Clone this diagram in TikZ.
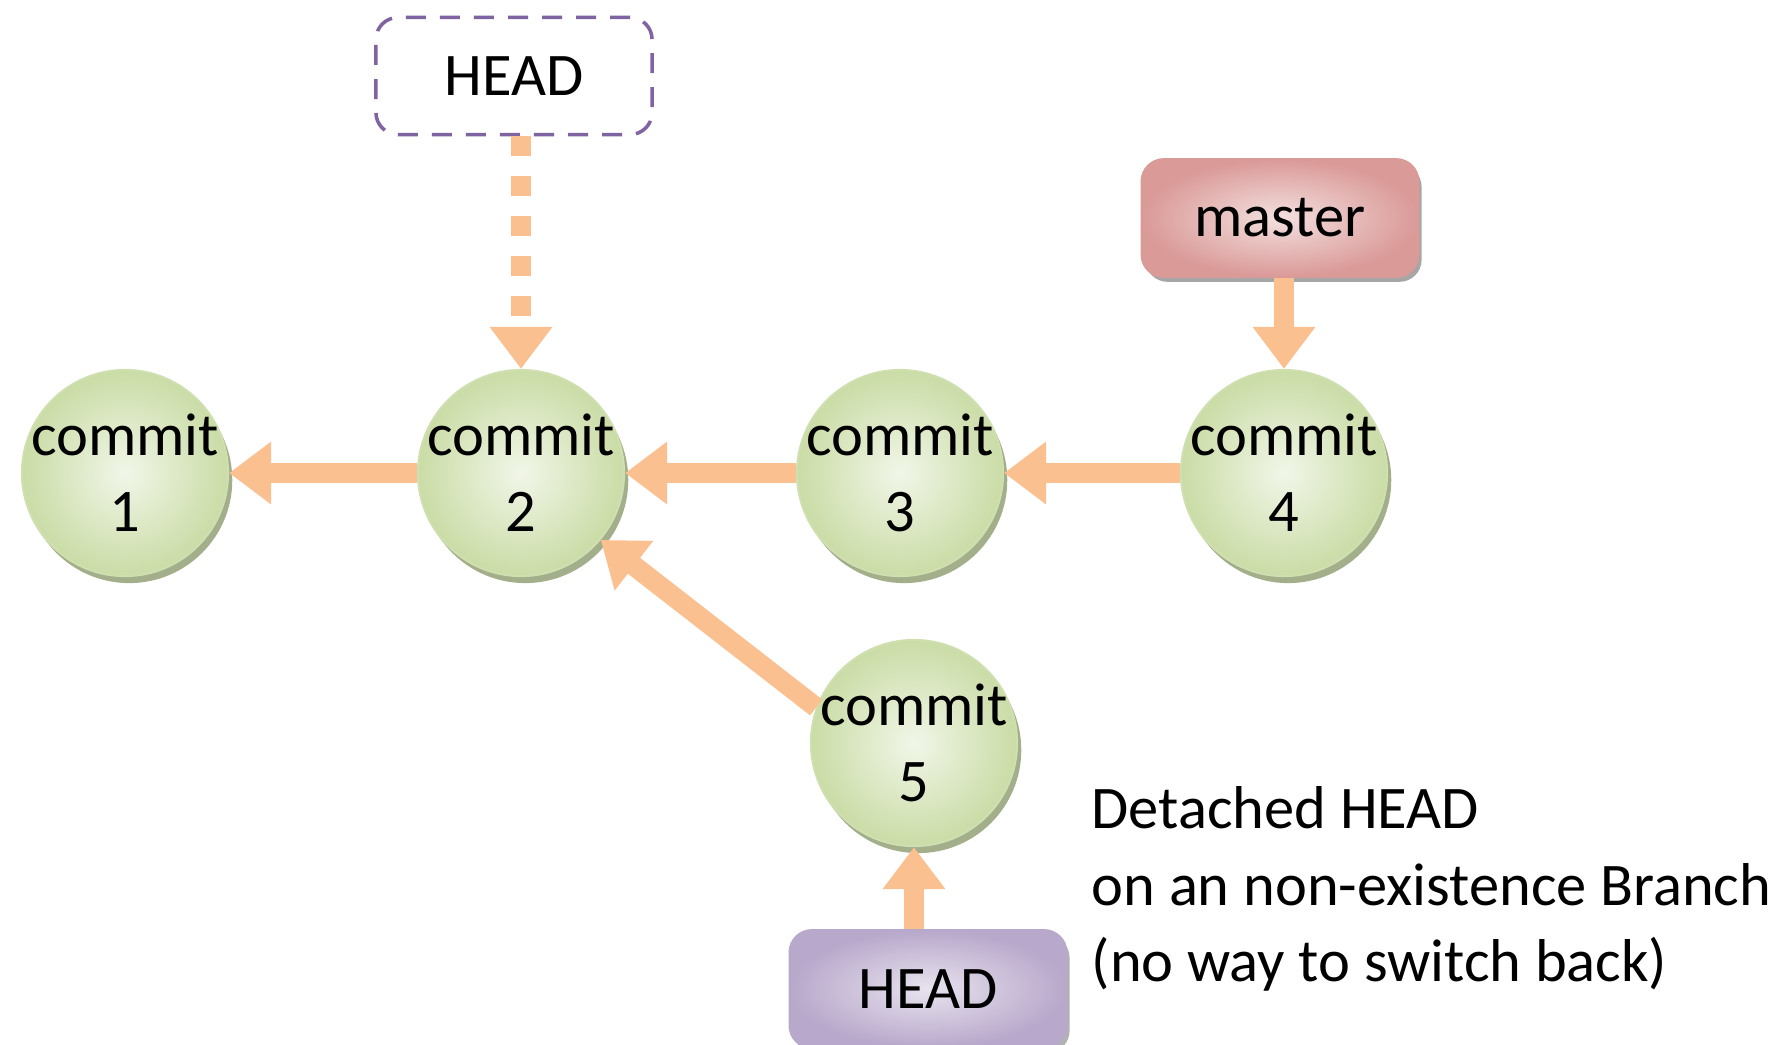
\documentclass[tikz,border=0pt]{standalone}
\usepackage{fontspec}
\setmainfont{Carlito}
\usetikzlibrary{arrows.meta, positioning, shadows}
\definecolor{arrowcol}{HTML}{FAC090}
\definecolor{commitin}{HTML}{F1F6E8}
\definecolor{commitout}{HTML}{CADCA6}
\definecolor{commitline}{HTML}{CFDFB0}
\definecolor{commitshadow}{HTML}{A3AE8A}
\definecolor{masterin}{HTML}{F3E0DF}
\definecolor{masterout}{HTML}{DA9A98}
\definecolor{headin}{HTML}{E8E3EE}
\definecolor{headout}{HTML}{B8A8CB}
\definecolor{headline}{HTML}{8064A2}

\begin{document}
\begin{tikzpicture}[x=0.01cm, y=-0.01cm,
        every node/.style={font=\fontsize{17.2}{21.7}\selectfont},
        commit/.style={circle, minimum size=2.06cm, inner sep=-0.3cm, align=center,
            draw=commitline, line width=0.6pt, shade, inner color=commitin, outer color=commitout,
            drop shadow={shadow xshift=1.2pt, shadow yshift=-2pt, fill=commitshadow, opacity=1}},
        label box/.style={rectangle, rounded corners=0.22cm, minimum width=2.76cm, minimum height=1.17cm},
        link/.style={draw=arrowcol, line width=0.2cm, -{Triangle[width=0.6cm, length=0.42cm]}}]
        \useasboundingbox (0,0) rectangle (1787,1044);
        \node[commit] (c1) at (125,473) {commit\\1};
        \node[commit] (c2) at (521,473) {commit\\2};
        \node[commit] (c3) at (900,473) {commit\\3};
        \node[commit] (c4) at (1284,473) {commit\\4};
        \node[commit] (c5) at (914,743) {commit\\5};
        \node[label box, draw=headline, line width=1pt, dash pattern=on 0.2cm off 0.14cm, fill=white] (oldhead) at (514,76) {HEAD};
        \node[label box, draw=masterout, line width=0.8pt, shade, inner color=masterin, outer color=masterout,
            drop shadow={shadow xshift=1pt, shadow yshift=-1.5pt, fill=black!35, opacity=1}] (master) at (1280,218) {master};
        \node[label box, draw=headout, line width=0.8pt, shade, inner color=headin, outer color=headout,
            drop shadow={shadow xshift=1pt, shadow yshift=-1.5pt, fill=black!30, opacity=1}] (head) at (928,989) {HEAD};
        \node[anchor=west, align=left, inner sep=0pt] (note) at (1091,889) {Detached HEAD\\on an non-existence Branch\\(no way to switch back)};
        \draw[link] (c2) -- (c1);
        \draw[link] (c3) -- (c2);
        \draw[link] (c4) -- (c3);
        \draw[link] (c5.160) -- (c2.-40);
        \draw[link] (master.south -| c4) -- (c4);
        \draw[link] (head.north -| c5) -- (c5);
        \draw[link, dash pattern=on 0.2cm off 0.2cm] (oldhead.south -| c2) -- (c2);
    \end{tikzpicture}
\end{document}
